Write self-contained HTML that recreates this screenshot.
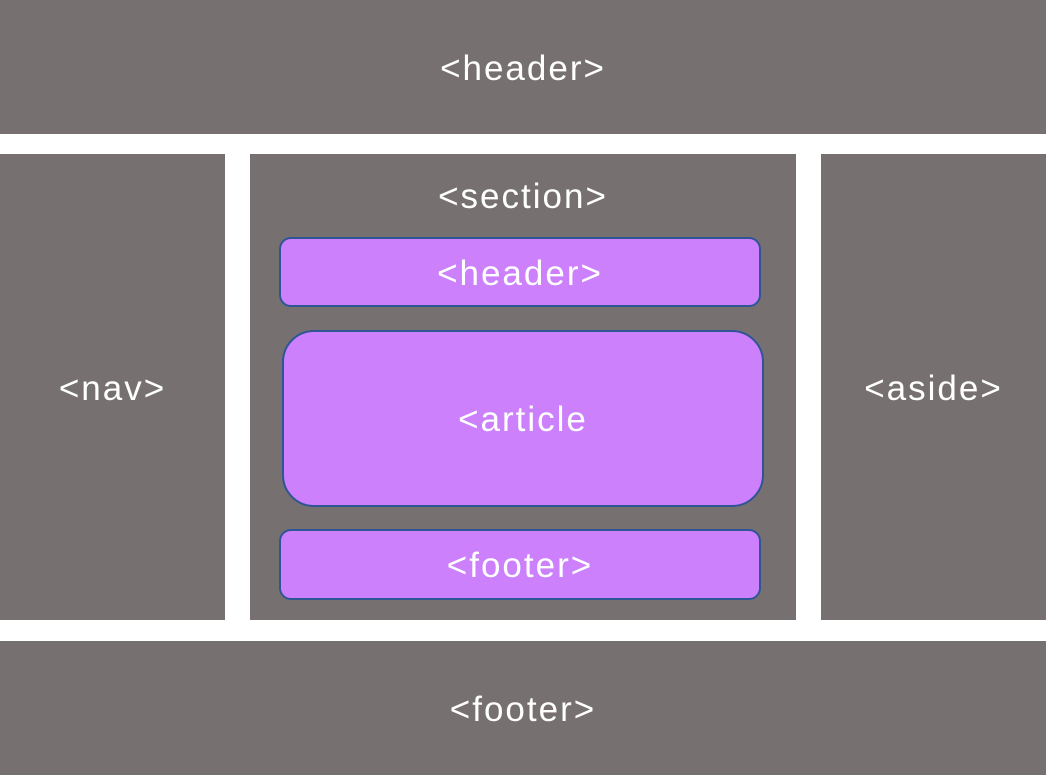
<!DOCTYPE html>
<html><head><meta charset="utf-8"><style>
html,body{margin:0;padding:0;}
body{width:1046px;height:775px;background:#fff;position:relative;overflow:hidden;font-family:"Liberation Sans",sans-serif;}
.b{position:absolute;background:#767170;color:#fff;display:flex;align-items:center;justify-content:center;font-size:35px;letter-spacing:2px;box-sizing:border-box;padding-top:3px;}
.p{position:absolute;background:#cc80fc;border:2px solid #2f5597;color:#fff;display:flex;align-items:center;justify-content:center;font-size:35px;letter-spacing:2px;box-sizing:border-box;padding-top:3px;}
</style></head><body>
<div class="b" style="left:0;top:0;width:1046px;height:134px;">&lt;header&gt;</div>
<div class="b" style="left:0;top:154px;width:225px;height:466px;">&lt;nav&gt;</div>
<div class="b" style="left:250px;top:154px;width:546px;height:466px;align-items:flex-start;padding-top:23px;">&lt;section&gt;</div>
<div class="b" style="left:821px;top:154px;width:225px;height:466px;">&lt;aside&gt;</div>
<div class="b" style="left:0;top:641px;width:1046px;height:134px;">&lt;footer&gt;</div>
<div class="p" style="left:279px;top:237px;width:482px;height:70px;border-radius:12px;">&lt;header&gt;</div>
<div class="p" style="left:282px;top:330px;width:482px;height:177px;border-radius:32px;">&lt;article</div>
<div class="p" style="left:279px;top:529px;width:482px;height:71px;border-radius:12px;">&lt;footer&gt;</div>
</body></html>
